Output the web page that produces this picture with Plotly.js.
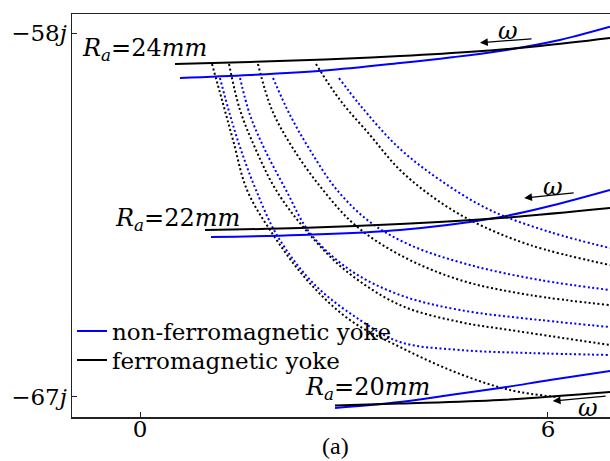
<!DOCTYPE html>
<html>
<head>
<meta charset="utf-8">
<script src="https://cdn.plot.ly/plotly-3.0.1.min.js"></script>
<style>html,body{margin:0;padding:0;background:#fff;}#chart{width:610px;height:461px;}</style>
</head>
<body>
<div id="chart"></div>
<script>
// ---- data ----
const xTickVals = [0, 6];
const xTickText = ["0", "6"];
const yTickVals = [-58, -67];
const yTickText = ["\u221258<i>j</i>", "\u221267<i>j</i>"];

// solid lines: ferromagnetic (black) and non-ferromagnetic (blue) yoke
const ra24FerroX = [0.515, 1.618, 2.721, 3.824, 4.926, 5.882, 6.912];
const ra24FerroY = [-58.767, -58.717, -58.655, -58.569, -58.457, -58.321, -58.124];
const ra24NonX = [0.588, 1.618, 2.721, 3.824, 4.559, 5.294, 6.103, 6.912];
const ra24NonY = [-59.113, -59.039, -58.927, -58.742, -58.606, -58.445, -58.198, -57.844];

const ra22FerroX = [0.956, 2.353, 3.824, 5.294, 6.912];
const ra22FerroY = [-62.871, -62.822, -62.723, -62.575, -62.327];
const ra22NonX = [1.044, 2.353, 3.824, 5.221, 6.029, 6.912];
const ra22NonY = [-63.044, -62.995, -62.871, -62.575, -62.278, -61.882];

const ra20FerroX = [2.868, 3.824, 5.294, 6.912];
const ra20FerroY = [-67.211, -67.162, -67.075, -66.877];
const ra20NonX = [2.868, 3.824, 4.559, 5.294, 6.029, 6.912];
const ra20NonY = [-67.273, -67.125, -66.951, -66.778, -66.581, -66.358];

// dotted connecting curves
const ferroDot1X = [1.059, 1.206, 1.368, 1.574, 1.912, 2.456, 3.088, 3.824, 4.632, 5.441, 6.132];
const ferroDot1Y = [-58.767, -59.657, -60.646, -61.882, -62.871, -64.108, -65.097, -65.765, -66.383, -66.828, -67.001];
const ferroDot2X = [1.309, 1.471, 1.706, 2.000, 2.426, 3.015, 3.824, 4.706, 5.441, 6.912];
const ferroDot2Y = [-58.767, -59.904, -60.893, -61.882, -62.847, -63.861, -64.726, -65.147, -65.344, -65.715];
const ferroDot3X = [1.735, 1.941, 2.265, 2.691, 3.162, 3.824, 4.706, 5.735, 6.912];
const ferroDot3Y = [-58.767, -59.904, -60.893, -61.882, -62.748, -63.490, -64.108, -64.479, -64.726];
const ferroDot4X = [2.588, 2.941, 3.382, 3.794, 4.265, 4.853, 5.735, 6.912];
const ferroDot4Y = [-58.767, -59.657, -60.522, -61.338, -62.006, -62.624, -63.242, -63.737];

const nonDot1X = [1.176, 1.324, 1.485, 1.706, 2.029, 2.574, 3.235, 3.824, 4.706, 5.735, 6.912];
const nonDot1Y = [-59.113, -60.028, -60.893, -61.882, -63.044, -64.231, -65.097, -65.641, -65.839, -65.913, -65.962];
const nonDot2X = [1.471, 1.618, 1.838, 2.147, 2.500, 3.088, 3.824, 4.706, 5.882, 6.912];
const nonDot2Y = [-59.113, -60.028, -60.893, -61.882, -62.946, -63.861, -64.479, -64.850, -65.097, -65.270];
const nonDot3X = [1.956, 2.206, 2.500, 2.897, 3.382, 3.971, 4.853, 5.882, 6.912];
const nonDot3Y = [-59.113, -60.028, -60.893, -61.882, -62.674, -63.242, -63.737, -64.108, -64.355];
const nonDot4X = [2.926, 3.235, 3.794, 4.412, 5.147, 6.029, 6.912];
const nonDot4Y = [-59.113, -59.780, -60.819, -61.635, -62.377, -62.921, -63.317];

const seriesNames = ["non-ferromagnetic yoke", "ferromagnetic yoke"];
const raLabels = ["<i>R<sub>a</sub></i>=24<i>mm</i>", "<i>R<sub>a</sub></i>=22<i>mm</i>", "<i>R<sub>a</sub></i>=20<i>mm</i>"];

// ---- styles ----
const BLUE = "#0000ff", BLACK = "#000000";
const FONT = "DejaVu Serif, serif";
const FONT2 = "Liberation Serif, Times New Roman, serif";
const FS = 24;
const solid = (x, y, c, name, leg) => ({x, y, type: "scatter", mode: "lines", line: {color: c, width: 2, shape: "spline"}, name: name || "", showlegend: !!leg, legend: leg || "legend", hoverinfo: "skip"});
const dotted = (x, y, c) => ({x, y, type: "scatter", mode: "lines", line: {color: c, width: 2, dash: "2px,2.5px", shape: "spline", smoothing: 1}, showlegend: false, hoverinfo: "skip"});

const traces = [
  dotted(ferroDot1X, ferroDot1Y, BLACK), dotted(ferroDot2X, ferroDot2Y, BLACK),
  dotted(ferroDot3X, ferroDot3Y, BLACK), dotted(ferroDot4X, ferroDot4Y, BLACK),
  dotted(nonDot1X, nonDot1Y, BLUE), dotted(nonDot2X, nonDot2Y, BLUE),
  dotted(nonDot3X, nonDot3Y, BLUE), dotted(nonDot4X, nonDot4Y, BLUE),
  solid(ra24NonX, ra24NonY, BLUE, seriesNames[0], "legend"),
  solid(ra24FerroX, ra24FerroY, BLACK, seriesNames[1], "legend2"),
  solid(ra22NonX, ra22NonY, BLUE), solid(ra22FerroX, ra22FerroY, BLACK),
  solid(ra20NonX, ra20NonY, BLUE), solid(ra20FerroX, ra20FerroY, BLACK)
];

const txt = (text, x, y, xa, size) => ({text, x, y, xref: "x", yref: "y", xanchor: xa || "left", yanchor: "middle", showarrow: false, font: {family: FONT, size: size || FS, color: "#000"}});
const arrow = (x, y, ax, ay) => ({text: "", x, y, ax, ay, xref: "x", yref: "y", axref: "x", ayref: "y", showarrow: true, arrowhead: 2, arrowsize: 1.2, arrowwidth: 1.3, arrowcolor: "#000"});

const annotations = [
  txt(raLabels[0], -0.88, -58.40),
  txt(raLabels[1], -0.39, -62.62),
  txt(raLabels[2], 4.294, -66.80, "right"),
  txt("<i>\u03c9</i>", 5.412, -57.94, "center"),
  arrow(5.0, -58.24, 5.78, -58.14),
  txt("<i>\u03c9</i>", 6.07, -61.80, "center"),
  arrow(5.65, -62.08, 6.4, -61.95),
  txt("<i>\u03c9</i>", 6.59, -67.28, "center"),
  arrow(6.07, -67.10, 6.87, -66.976),
  {text: "(a)", x: 2.88, y: 0, xref: "x", yref: "paper", yshift: -29, xanchor: "center", yanchor: "middle", showarrow: false, font: {family: FONT2, size: 24, color: "#000"}}
];

const legendBase = {x: 0, xanchor: "left", yanchor: "middle", bgcolor: "rgba(0,0,0,0)", font: {family: FONT, size: 23, color: "#000"}, itemwidth: 30, borderwidth: 0};

const layout = {
  width: 610, height: 461,
  margin: {l: 72, r: 0, t: 14, b: 44},
  paper_bgcolor: "#fff", plot_bgcolor: "#fff",
  font: {family: FONT, size: FS, color: "#000"},
  showlegend: true,
  legend: Object.assign({}, legendBase, {y: 0.2134}),
  legend2: Object.assign({}, legendBase, {y: 0.1414}),
  xaxis: {range: [-1.0, 6.912], showgrid: false, zeroline: false, showline: true, linecolor: "#222", linewidth: 1.5, mirror: true,
          ticks: "inside", ticklen: 5, tickwidth: 1, tickcolor: "#222", tickvals: xTickVals, ticktext: xTickText, tickfont: {family: FONT, size: 23}, ticklabelstandoff: -9},
  yaxis: {range: [-67.495, -57.53], showgrid: false, zeroline: false, showline: true, linecolor: "#222", linewidth: 1.5,
          ticks: "inside", ticklen: 5, tickwidth: 1, tickcolor: "#222", tickvals: yTickVals, ticktext: yTickText, tickfont: {family: FONT, size: 23}, ticklabelstandoff: -1},
  annotations
};

Plotly.newPlot("chart", traces, layout, {staticPlot: true, displayModeBar: false});
</script>
</body>
</html>
